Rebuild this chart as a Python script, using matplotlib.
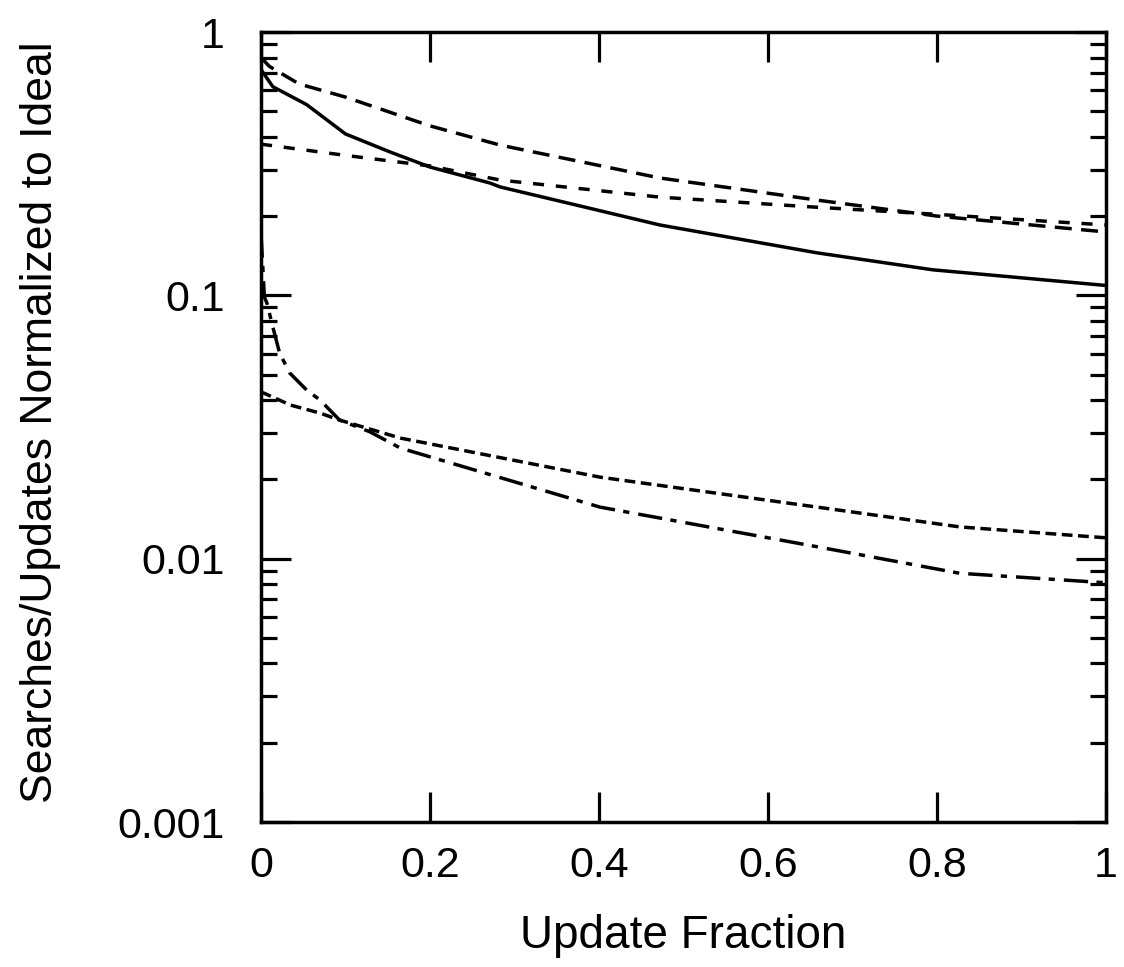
import matplotlib
matplotlib.use("Agg")
import matplotlib.pyplot as plt
from matplotlib.ticker import LogLocator, NullFormatter

plt.rcParams['font.family'] = ['Liberation Sans', 'DejaVu Sans']

# ---- data ----
x_long = [0.0, 0.01, 0.045, 0.1, 0.2, 0.283, 0.472, 0.658, 0.8, 1.0]
y_long = [0.80, 0.74, 0.635, 0.566, 0.44, 0.372, 0.279, 0.23, 0.20, 0.174]

x_med = [0.0, 0.1, 0.2, 0.283, 0.472, 0.658, 0.8, 1.0]
y_med = [0.375, 0.34, 0.31, 0.274, 0.236, 0.216, 0.203, 0.185]

x_solid = [0.0, 0.014, 0.054, 0.1, 0.153, 0.2, 0.271, 0.283, 0.472, 0.658, 0.795, 1.0]
y_solid = [0.72, 0.62, 0.53, 0.41, 0.35, 0.307, 0.267, 0.258, 0.185, 0.145, 0.125, 0.109]

x_dashdot = [0.0, 0.004, 0.007, 0.014, 0.022, 0.034, 0.054, 0.07, 0.093, 0.129, 0.165, 0.401, 0.658, 0.827, 1.0]
y_dashdot = [0.172, 0.0985, 0.0935, 0.0758, 0.0604, 0.0507, 0.0437, 0.040, 0.0336, 0.0303, 0.0263, 0.0157, 0.0111, 0.0088, 0.0081]

x_short = [0.0, 0.035, 0.07, 0.093, 0.165, 0.401, 0.658, 0.827, 1.0]
y_short = [0.043, 0.0383, 0.0357, 0.0336, 0.0287, 0.0204, 0.0157, 0.0132, 0.0120]

x_ticks = [0, 0.2, 0.4, 0.6, 0.8, 1.0]
x_ticklabels = ["0", "0.2", "0.4", "0.6", "0.8", "1"]
y_ticks = [0.001, 0.01, 0.1, 1]
y_ticklabels = ["0.001", "0.01", "0.1", "1"]

W, H = 1124, 967
fig = plt.figure(figsize=(W / 100, H / 100), dpi=100)
ax = fig.add_axes([261 / W, 1 - 822 / H, (1106 - 261) / W, (822 - 32) / H])

lw = 2.5
ax.plot(x_long, y_long, color='black', lw=lw, linestyle=(0, (4.9, 2.7)))
ax.plot(x_med, y_med, color='black', lw=lw, linestyle=(0, (3.2, 3.4)))
ax.plot(x_solid, y_solid, color='black', lw=lw, linestyle='-')
ax.plot(x_dashdot, y_dashdot, color='black', lw=lw, linestyle=(0, (7, 2.4, 1.8, 2.6)))
ax.plot(x_short, y_short, color='black', lw=lw, linestyle=(0, (3.1, 1.6)))

ax.set_yscale('log')
ax.set_xlim(0, 1)
ax.set_ylim(0.001, 1)
ax.set_xticks(x_ticks)
ax.set_xticklabels(x_ticklabels)
ax.set_yticks(y_ticks)
ax.set_yticklabels(y_ticklabels)
ax.yaxis.set_minor_locator(LogLocator(base=10, subs=range(2, 10)))
ax.yaxis.set_minor_formatter(NullFormatter())

for s in ax.spines.values():
    s.set_linewidth(2.5)

ax.tick_params(which='both', direction='in', top=True, right=True, width=2.3, colors='black')
ax.tick_params(which='major', length=21.5, labelsize=31)
ax.tick_params(which='minor', length=11.5)
ax.tick_params(axis='x', which='major', pad=17)
ax.tick_params(axis='y', which='major', pad=26)

fig.text(683 / W, 1 - 948 / H, "Update Fraction", fontsize=33, ha='center', va='baseline')
fig.text(52 / W, 1 - 422 / H, "Searches/Updates Normalized to Ideal", fontsize=32,
         rotation=90, rotation_mode='anchor', ha='center', va='baseline')

fig.savefig("out.png", dpi=100)
